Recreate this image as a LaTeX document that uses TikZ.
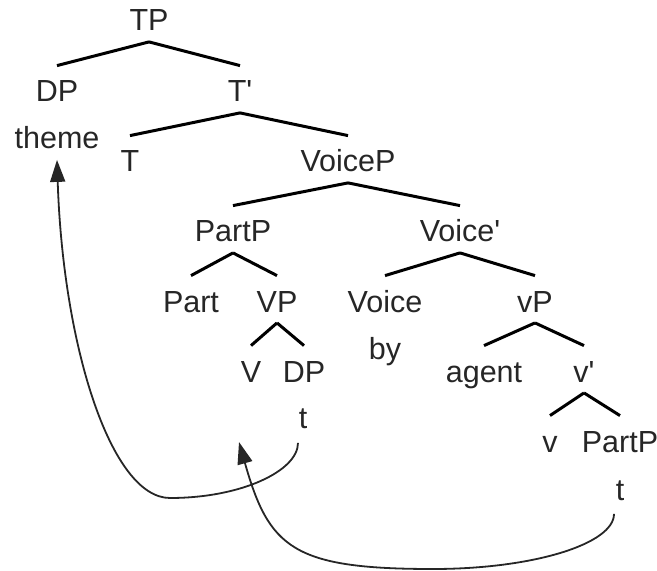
\documentclass[tikz,border=0pt]{standalone}
\usepackage{fontspec}
\setmainfont{Liberation Sans}
\usetikzlibrary{arrows.meta}
\begin{document}
\begin{tikzpicture}[x=0.5pt,y=-0.5pt,
    every node/.style={anchor=base,inner ysep=0pt,text height=18pt,text depth=5.25pt,
      text=black!85,font=\fontsize{15.25}{18}\selectfont},
    branch/.style={line width=1.5pt,black},
    move/.style={line width=0.9pt,black!85,-{Triangle[length=11pt,width=7.5pt]}}]
  \useasboundingbox (0,0) rectangle (657,571);
  \draw
    (149,31) node (TP){TP}
    (57,102) node (DP){DP}
    (240,102) node (Tbar){T\textquotesingle}
    (57,149) node (theme){theme}
    (130,172) node (T){T}
    (348,172) node (VoiceP){VoiceP}
    (233,242) node (PartP){PartP}
    (460,242) node (Voicebar){Voice\textquotesingle}
    (191,312) node (Part){Part}
    (277,312) node (VP){VP}
    (385,312) node (Voice){Voice}
    (535,312) node (vP){vP}
    (385,359) node (by){by}
    (251,382) node (V){V}
    (304,382) node (DPb){DP}
    (484,382) node (agent){agent}
    (584,382) node (vbar){v\textquotesingle}
    (303,428) node (t1){t}
    (550,452) node (v){v}
    (620,452) node (PartPb){PartP}
    (620,500) node (t2){t};
  \coordinate (gap) at (239,442);
  \begin{scope}[branch]
    \draw (TP.south) to (DP.north);
    \draw (TP.south) to (Tbar.north);
    \draw (Tbar.south) to (T.north);
    \draw (Tbar.south) to (VoiceP.north);
    \draw (VoiceP.south) to (PartP.north);
    \draw (VoiceP.south) to (Voicebar.north);
    \draw (PartP.south) to (Part.north);
    \draw (PartP.south) to (VP.north);
    \draw (Voicebar.south) to (Voice.north);
    \draw (Voicebar.south) to (vP.north);
    \draw (VP.south) to (V.north);
    \draw (VP.south) to (DPb.north);
    \draw (vP.south) to (agent.north);
    \draw (vP.south) to (vbar.north);
    \draw (vbar.south) to (v.north);
    \draw (vbar.south) to (PartPb.north);
  \end{scope}
  \draw[move] ([xshift=-2.5pt,yshift=-2pt]t1.south) .. controls (298,471) and (241,498) .. (170,498)
    .. controls (111,498) and (63,346) .. (theme.south);
  \draw[move] ([xshift=-3pt,yshift=-1.5pt]t2.south) .. controls (614,544) and (533,569) .. (433,569)
    .. controls (293,569) and (269,548) .. (gap);
\end{tikzpicture}
\end{document}
